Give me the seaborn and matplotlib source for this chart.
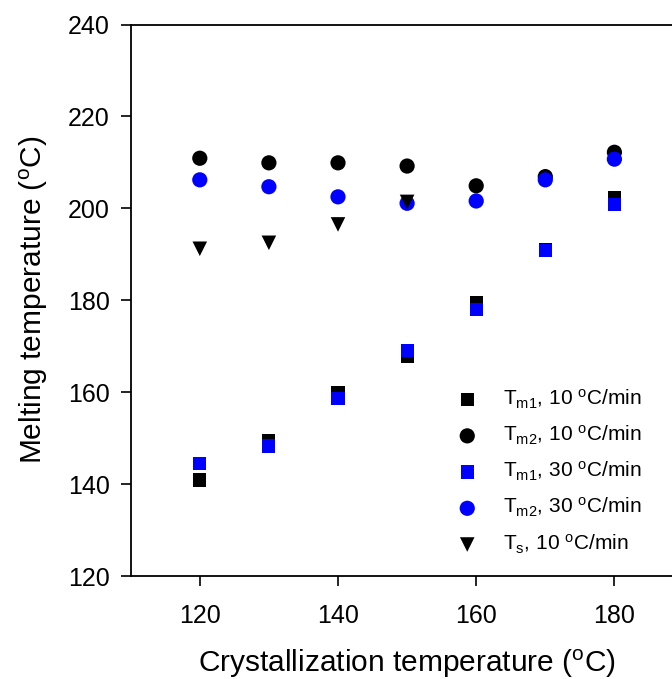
import matplotlib
matplotlib.use("Agg")
import matplotlib.pyplot as plt
import seaborn as sns
import pandas as pd

# ---- data ----
x_tc = [120, 130, 140, 150, 160, 170, 180]
tm1_10 = [140.9, 149.5, 159.8, 167.7, 179.5, 191.0, 202.4]
tm2_10 = [210.9, 209.9, 209.9, 209.2, 204.9, 206.9, 212.2]
tm1_30 = [144.5, 148.3, 158.6, 169.1, 178.0, 190.9, 200.9]
tm2_30 = [206.2, 204.7, 202.5, 201.1, 201.6, 206.2, 210.7]
x_ts = [120, 130, 140, 150]
ts_10 = [191.2, 192.5, 196.5, 201.4]

labels = [r'T$_{\mathrm{m1}}$, 10 $^{\mathrm{o}}$C/min',
          r'T$_{\mathrm{m2}}$, 10 $^{\mathrm{o}}$C/min',
          r'T$_{\mathrm{m1}}$, 30 $^{\mathrm{o}}$C/min',
          r'T$_{\mathrm{m2}}$, 30 $^{\mathrm{o}}$C/min',
          r'T$_{\mathrm{s}}$, 10 $^{\mathrm{o}}$C/min']
x_ticks = [120, 140, 160, 180]
y_ticks = [120, 140, 160, 180, 200, 220, 240]

sns.set_style("ticks")
plt.rcParams['font.family'] = ['Liberation Sans', 'DejaVu Sans']
plt.rcParams['mathtext.fontset'] = 'custom'
plt.rcParams['mathtext.rm'] = 'Liberation Sans'
plt.rcParams['mathtext.it'] = 'Liberation Sans:italic'
plt.rcParams['mathtext.bf'] = 'Liberation Sans:bold'
plt.rcParams['text.color'] = 'black'
plt.rcParams['axes.labelcolor'] = 'black'

fig = plt.figure(figsize=(6.72, 6.79), dpi=100)
ax = fig.add_axes([130.7 / 672, 1 - 576 / 679, (683.5 - 130.7) / 672, (576 - 24.5) / 679])

series = [
    (x_tc, tm1_10, 'black', 's', 90, labels[0]),
    (x_tc, tm2_10, 'black', 'o', 120, labels[1]),
    (x_tc, tm1_30, '#0000ff', 's', 90, labels[2]),
    (x_tc, tm2_30, '#0000ff', 'o', 120, labels[3]),
    (x_ts, ts_10, 'black', 'v', 110, labels[4]),
]
for xs, ys, col, mk, s, lab in series:
    df = pd.DataFrame({'x': xs, 'y': ys})
    sns.scatterplot(data=df, x='x', y='y', color=col, marker=mk, s=s,
                    edgecolor='none', linewidth=0, label=lab, ax=ax, zorder=3)

ax.set_xlim(110, 190)
ax.set_ylim(120, 240)
ax.set_xticks(x_ticks)
ax.set_yticks(y_ticks)
ax.tick_params(axis='both', direction='out', length=7, width=1.2, colors='black',
               labelsize=18)
ax.tick_params(axis='x', pad=13)
ax.tick_params(axis='y', pad=8)
for side in ['left', 'bottom', 'top']:
    ax.spines[side].set_visible(True)
    ax.spines[side].set_linewidth(1.3)
    ax.spines[side].set_color('black')
ax.spines['right'].set_visible(True)

ax.set_xlabel('Crystallization temperature ($^{\\mathrm{o}}$C)', fontsize=21.5, labelpad=14,
              color='black')
ax.set_ylabel('Melting temperature ($^{\\mathrm{o}}$C)', fontsize=21.5, labelpad=13,
              color='black')

leg = ax.legend(loc='upper left', bbox_to_anchor=(436 / 672, 1 - 377 / 679),
                bbox_transform=fig.transFigure, frameon=False, fontsize=15,
                handletextpad=0.72, labelspacing=0.62, borderpad=0, markerscale=1.0)
for t in leg.get_texts():
    t.set_color('black')

fig.savefig('out.png', dpi=100, facecolor='white')
